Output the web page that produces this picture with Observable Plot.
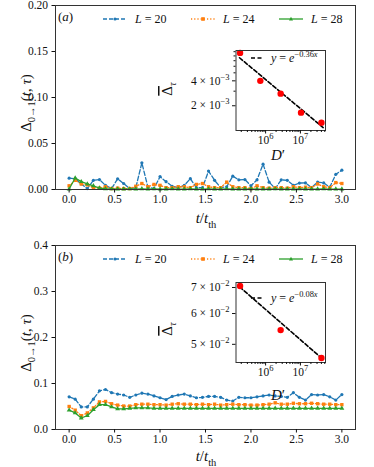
<!DOCTYPE html>
<html><head><meta charset="utf-8">
<script src="https://cdn.jsdelivr.net/npm/d3@7"></script>
<script src="https://cdn.jsdelivr.net/npm/@observablehq/plot@0.6"></script>
<style>
body{margin:0;background:#fff;}
#root{position:relative;width:374px;height:467px;font-family:"Liberation Serif","DejaVu Serif",serif;color:#111;}
#root svg{position:absolute;overflow:visible;}
#root svg text{font-family:"Liberation Serif","DejaVu Serif",serif;}
</style></head><body><div id="root"></div><script>
// ---- data ----
const t = d3.range(46).map(i => i / 15);
const blueA = [0.0123,0.0118,0.0060,0.0010,0.0100,0.0108,0.0045,0.0010,0.0116,0.0065,
  0.0010,0.0020,0.0290,0.0025,0.0010,0.0140,0.0085,0.0035,0.0020,0.0045,
  0.0118,0.0020,0.0020,0.0200,0.0100,0.0020,0.0030,0.0145,0.0105,0.0108,
  0.0040,0.0105,0.0275,0.0080,0.0010,0.0105,0.0100,0.0045,0.0070,0.0072,
  0.0020,0.0080,0.0072,0.0025,0.0165,0.0210];
const orangeA = [0.0040,0.0100,0.0060,0.0050,0.0020,0.0015,0.0030,0.0010,0.0015,0.0010,
  0.0010,0.0035,0.0065,0.0030,0.0055,0.0045,0.0020,0.0020,0.0030,0.0030,
  0.0020,0.0055,0.0065,0.0030,0.0020,0.0020,0.0080,0.0030,0.0020,0.0020,
  0.0010,0.0040,0.0020,0.0015,0.0020,0.0020,0.0015,0.0030,0.0020,0.0025,
  0.0020,0.0060,0.0030,0.0020,0.0075,0.0065];
const greenA = [0.0005,0.0125,0.0085,0.0060,0.0040,0.0015,0.0008,0.0006,0.0005,0.0005,
  0.0006,0.0005,0.0007,0.0005,0.0006,0.0005,0.0005,0.0006,0.0005,0.0005,
  0.0006,0.0005,0.0005,0.0006,0.0005,0.0005,0.0006,0.0005,0.0005,0.0005,
  0.0006,0.0005,0.0005,0.0005,0.0006,0.0005,0.0005,0.0005,0.0006,0.0005,
  0.0005,0.0005,0.0006,0.0005,0.0005,0.0005];
const blueB = [0.071,0.066,0.049,0.049,0.066,0.084,0.087,0.080,0.077,0.075,
  0.070,0.075,0.079,0.077,0.073,0.069,0.065,0.072,0.075,0.077,
  0.073,0.069,0.070,0.072,0.072,0.070,0.064,0.062,0.070,0.069,
  0.069,0.071,0.073,0.075,0.073,0.072,0.070,0.080,0.070,0.064,
  0.076,0.075,0.076,0.071,0.064,0.076];
const orangeB = [0.050,0.042,0.030,0.036,0.047,0.060,0.061,0.056,0.053,0.051,
  0.051,0.054,0.055,0.055,0.054,0.054,0.053,0.055,0.056,0.055,
  0.055,0.054,0.055,0.054,0.055,0.053,0.054,0.055,0.054,0.054,
  0.053,0.053,0.054,0.055,0.058,0.055,0.055,0.057,0.056,0.056,
  0.057,0.056,0.055,0.055,0.054,0.054];
const greenB = [0.042,0.036,0.025,0.030,0.043,0.054,0.054,0.049,0.045,0.045,
  0.046,0.047,0.047,0.047,0.046,0.046,0.046,0.046,0.046,0.046,
  0.046,0.046,0.046,0.046,0.046,0.046,0.046,0.046,0.046,0.046,
  0.046,0.046,0.046,0.046,0.046,0.046,0.046,0.046,0.046,0.046,
  0.046,0.046,0.046,0.046,0.046,0.046];
const xTicks = [0, 0.5, 1.0, 1.5, 2.0, 2.5, 3.0];
const yTicksA = [0, 0.05, 0.10, 0.15, 0.20];
const yTicksB = [0, 0.1, 0.2, 0.3, 0.4];
const seriesNames = ["L = 20", "L = 24", "L = 28"];

const insetD_A = [184756, 705432, 2704156, 10400600, 40116600];
const insetY_A = [8.7e-3, 4.0e-3, 2.8e-3, 1.65e-3, 1.25e-3];
const fitD_A = [1.78e5, 4.5e7];
const fitY_A = [7.6e-3, 1.09e-3];
const insetD_B = [184756, 2704156, 40116600];
const insetY_B = [0.0706, 0.0544, 0.0461];
const fitD_B = [1.78e5, 4.5e7];
const fitY_B = [0.0703, 0.0457];
const insetXTicks = [1e6, 1e7];
const insetXMinor = [2e5,3e5,4e5,5e5,6e5,7e5,8e5,9e5,2e6,3e6,4e6,5e6,6e6,7e6,8e6,9e6,2e7,3e7,4e7,5e7];
const insetYTicksA = [2e-3, 4e-3];
const insetYMinorA = [3e-3,5e-3,6e-3,7e-3,8e-3,9e-3];
const insetYTicksB = [5e-2, 6e-2, 7e-2];

const C = {blue:"#1f77b4", orange:"#ff7f0e", green:"#2ca02c"};
const FONT = "Liberation Serif, DejaVu Serif, serif";
const root = document.getElementById("root");

function place(svg, left, top) {
  svg.style.left = left + "px"; svg.style.top = top + "px";
  root.appendChild(svg);
}

function mainPanel(blue, orange, green, yTicks, yFmt, top, height, mb) {
  const rows = (arr) => t.map((x, i) => ({t: x, v: arr[i]}));
  const B = rows(blue), O = rows(orange), G = rows(green);
  const svg = Plot.plot({
    width: 374, height, marginLeft: 55, marginRight: 19, marginTop: 5, marginBottom: mb,
    style: {fontFamily: FONT, fontSize: "11.5px", color: "#111", background: "transparent"},
    x: {domain: [-0.15, 3.15]},
    y: {domain: [yTicks[0], yTicks[yTicks.length - 1]]},
    marks: [
      Plot.line(B, {x: "t", y: "v", stroke: C.blue, strokeWidth: 1.3, strokeDasharray: "4.5,2.2"}),
      Plot.dot(B, {x: "t", y: "v", r: 1.6, fill: C.blue}),
      Plot.line(O, {x: "t", y: "v", stroke: C.orange, strokeWidth: 1.3, strokeDasharray: "1.2,2"}),
      Plot.dot(O, {x: "t", y: "v", r: 1.9, symbol: "square", fill: C.orange}),
      Plot.line(G, {x: "t", y: "v", stroke: C.green, strokeWidth: 1.3}),
      Plot.dot(G, {x: "t", y: "v", r: 1.8, symbol: "triangle", fill: C.green}),
      Plot.frame({stroke: "#333", strokeWidth: 1}),
      Plot.axisX({ticks: xTicks, tickFormat: d3.format(".1f"), tickSize: 3.5, tickPadding: 2, label: null}),
      Plot.axisY({ticks: yTicks, tickFormat: d3.format(yFmt), tickSize: 3.5, tickPadding: 4, label: null})
    ]
  });
  place(svg, 0, top);
}

function supify(svg) {
  d3.select(svg).selectAll("text").each(function() {
    const s = this.textContent;
    const m = s.match(/^(.*?10)\^(.+)$/);
    if (!m) return;
    const sel = d3.select(this);
    sel.text(null);
    sel.append("tspan").text(m[1]);
    sel.append("tspan").attr("dy", "-5").attr("font-size", "8.5px").text(m[2]);
  });
}

function inset(D, Y, fD, fY, yDomain, yTicks, yMinor, yExp, top) {
  const P = D.map((d, i) => ({d, y: Y[i]}));
  const F = fD.map((d, i) => ({d, y: fY[i]}));
  const svg = Plot.plot({
    width: 180, height: 125, marginLeft: 80.5, marginRight: 10, marginTop: 10, marginBottom: 35,
    style: {fontFamily: FONT, fontSize: "11.5px", color: "#111", background: "transparent"},
    x: {type: "log", domain: [1.413e5, 5.248e7]},
    y: {type: "log", domain: yDomain},
    marks: [
      Plot.frame({fill: "white", stroke: "none"}),
      Plot.line(F, {x: "d", y: "y", stroke: "black", strokeWidth: 1.6, strokeDasharray: "4,2.2"}),
      Plot.dot(P, {x: "d", y: "y", r: 3.2, fill: "red"}),
      Plot.frame({stroke: "#333", strokeWidth: 1}),
      Plot.axisX({ticks: insetXMinor, tickSize: 2, tickFormat: () => "", label: null}),
      Plot.axisX({ticks: insetXTicks, tickSize: 3.5, tickPadding: 2, tickFormat: d => "10^" + Math.round(Math.log10(d)), label: null}),
      Plot.axisY({ticks: yMinor, tickSize: 2, tickFormat: () => "", label: null}),
      Plot.axisY({ticks: yTicks, tickSize: 3.5, tickPadding: 3,
        tickFormat: d => Math.round(d / Math.pow(10, yExp)) + " \u00d7 10^\u2212" + (-yExp), label: null})
    ]
  });
  supify(svg);
  place(svg, 155, top);
}

mainPanel(blueA, orangeA, greenA, yTicksA, ".2f", 0, 234, 45);
mainPanel(blueB, orangeB, greenB, yTicksB, ".1f", 240, 227, 38);
inset(insetD_A, insetY_A, fitD_A, fitY_A, [1.005e-3, 9.3e-3], insetYTicksA, insetYMinorA, -3, 40);
inset(insetD_B, insetY_B, fitD_B, fitY_B, [0.0449, 0.0721], insetYTicksB, [], -2, 272);

// ---- overlay: labels and legends ----
const ov = d3.select(root).append("svg").attr("width", 374).attr("height", 467)
  .style("left", "0px").style("top", "0px").style("pointer-events", "none")
  .attr("font-family", FONT).attr("fill", "#111");

function rich(x, y, size, parts, {anchor = "start", rotate = false, baseline = "auto"} = {}) {
  const tx = ov.append("text").attr("font-size", size).attr("text-anchor", anchor)
    .attr("dominant-baseline", baseline);
  if (rotate) tx.attr("transform", `translate(${x},${y}) rotate(-90)`);
  else tx.attr("x", x).attr("y", y);
  let shift = 0;
  for (const p of parts) {
    const ts = tx.append("tspan").text(p.t);
    const target = p.sub ? size * 0.3 : p.sup ? -size * 0.42 : 0;
    if (target !== shift) { ts.attr("dy", target - shift); shift = target; }
    if (p.sub || p.sup) ts.attr("font-size", size * 0.7);
    if (p.i) ts.attr("font-style", "italic");
    if (p.over) ts.style("text-decoration", "overline");
  }
  return tx;
}

function panelText(off, label, fitExp) {
  rich(58, 21 + off, 13, [{t: "("}, {t: label, i: true}, {t: ")"}]);
  rich(26, 103 + off, 15, [{t: "\u0394"}, {t: "0\u21921", sub: true}, {t: "("}, {t: "t", i: true}, {t: ", "}, {t: "\u03c4", i: true}, {t: ")"}],
    {anchor: "middle", rotate: true, baseline: "central"});
  rich(206, off ? 461 : 223, 15, [{t: "t", i: true}, {t: "/"}, {t: "t", i: true}, {t: "th", sub: true}], {anchor: "middle"});
  const ly = 19 + off;
  const items = [
    {x0: 103, c: C.blue, dash: "4,2", sym: "dot"},
    {x0: 191, c: C.orange, dash: "1.2,2", sym: "square"},
    {x0: 279, c: C.green, dash: null, sym: "triangle"}
  ];
  items.forEach((it, k) => {
    const ln = ov.append("line").attr("x1", it.x0).attr("x2", it.x0 + 24).attr("y1", ly).attr("y2", ly)
      .attr("stroke", it.c).attr("stroke-width", 1.3);
    if (it.dash) ln.attr("stroke-dasharray", it.dash);
    const cx = it.x0 + 12;
    if (it.sym === "dot") ov.append("circle").attr("cx", cx).attr("cy", ly).attr("r", 1.6).attr("fill", it.c);
    if (it.sym === "square") ov.append("rect").attr("x", cx - 1.8).attr("y", ly - 1.8).attr("width", 3.6).attr("height", 3.6).attr("fill", it.c);
    if (it.sym === "triangle") ov.append("path").attr("d", `M${cx},${ly - 2.2}L${cx + 2},${ly + 1.4}L${cx - 2},${ly + 1.4}Z`).attr("fill", it.c);
    rich(it.x0 + 32, ly + 4, 12, [{t: "L", i: true}, {t: " = " + seriesNames[k].split(" = ")[1]}]);
  });
  const iy = 58 + off;
  ov.append("line").attr("x1", 251).attr("x2", 263).attr("y1", iy).attr("y2", iy)
    .attr("stroke", "black").attr("stroke-width", 1.6).attr("stroke-dasharray", "4,2.5");
  rich(271, iy + 4, 12, [{t: "y", i: true}, {t: " = "}, {t: "e", i: true}, {t: "\u2212" + fitExp, sup: true}, {t: "x", sup: true, i: true}]);
  rich(167, 89 + off, 15, [{t: "\u0394", over: true}, {t: "\u03c4", sub: true, i: true}], {anchor: "middle", rotate: true, baseline: "central"});
  rich(278, 160 + off, 15, [{t: "D", i: true}, {t: "\u2032"}], {anchor: "middle"});
}
panelText(0, "a", "0.36");
panelText(240, "b", "0.08");
</script></body></html>
